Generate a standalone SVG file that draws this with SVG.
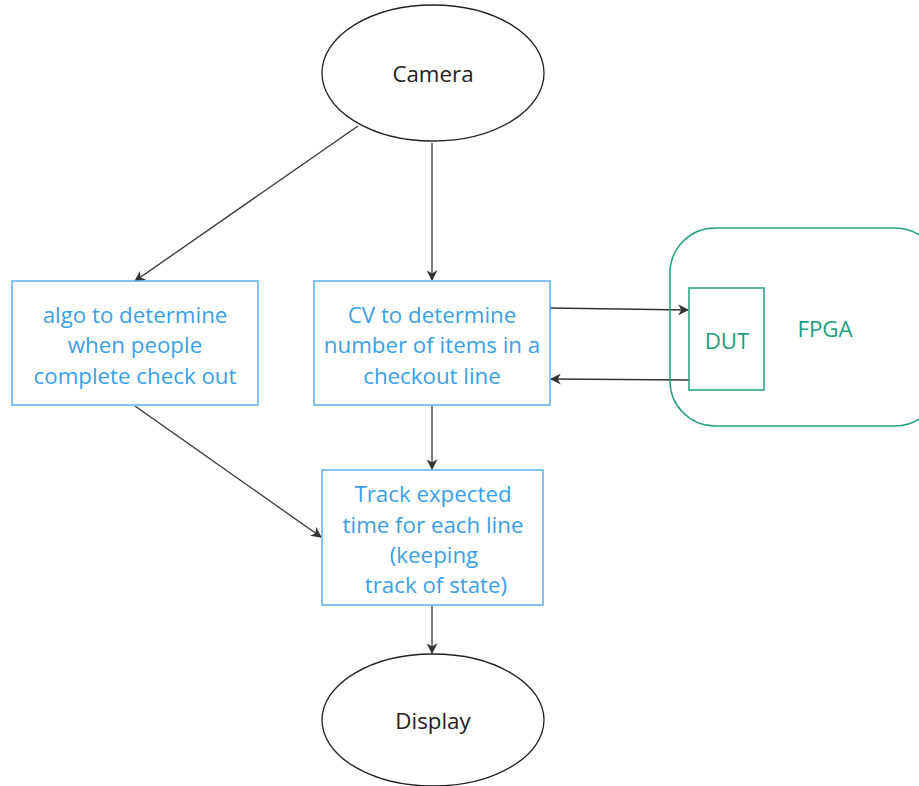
<svg xmlns="http://www.w3.org/2000/svg" width="919" height="786" viewBox="0 0 919 786">
<defs>
<marker id="arr" viewBox="0 0 10 10" refX="9" refY="5" markerWidth="11" markerHeight="11" markerUnits="userSpaceOnUse" orient="auto">
<path d="M0,0 L10,5 L0,10 L3,5 Z" fill="#333"/>
</marker>
</defs>
<style>
.ell{fill:#fff;stroke:#222;stroke-width:1.3}
.box{fill:#fff;stroke:#5aaee8;stroke-width:1.5}
.gbox{fill:none;stroke:#22a07e;stroke-width:1.5}
.t{font-family:"Open Sans",sans-serif;font-size:22.3px;text-anchor:middle;dominant-baseline:central}
.bt{fill:#3a9fe6}
.kt{fill:#222}
.gt{fill:#1f9e7c}
.c{fill:none;stroke:#333;stroke-width:1.3;marker-end:url(#arr)}
</style>
<rect width="919" height="786" fill="#fff"/>
<g id="connectors">
<line class="c" x1="358" y1="126" x2="135" y2="281"/>
<line class="c" x1="432" y1="143" x2="432" y2="280"/>
<line class="c" x1="550" y1="308" x2="688" y2="310"/>
<line class="c" x1="689" y1="380" x2="551" y2="379"/>
<line class="c" x1="135" y1="406" x2="321" y2="537"/>
<line class="c" x1="432" y1="406" x2="432" y2="469"/>
<line class="c" x1="432" y1="606" x2="432" y2="653"/>
</g>
<g id="camera">
<ellipse class="ell" cx="433" cy="73" rx="111" ry="68"/>
<text class="t kt" x="433" y="73">Camera</text>
</g>
<g id="algo">
<rect class="box" x="12" y="281" width="246" height="124"/>
<text class="t bt" x="135" y="314">algo to determine</text>
<text class="t bt" x="135" y="344">when people</text>
<text class="t bt" x="135" y="375">complete check out</text>
</g>
<g id="cv">
<rect class="box" x="314" y="281" width="236" height="124"/>
<text class="t bt" x="432" y="314">CV to determine</text>
<text class="t bt" x="432" y="344">number of items in a</text>
<text class="t bt" x="432" y="375">checkout line</text>
</g>
<g id="fpga">
<rect class="gbox" x="670" y="228" width="270" height="198" rx="45"/>
<text class="t gt" x="825" y="328">FPGA</text>
</g>
<g id="dut">
<rect class="gbox" x="689" y="288" width="75" height="102"/>
<text class="t gt" x="727" y="340">DUT</text>
</g>
<g id="track">
<rect class="box" x="322" y="470" width="221" height="135"/>
<text class="t bt" x="433" y="493">Track expected</text>
<text class="t bt" x="433" y="524">time for each line</text>
<text class="t bt" x="434" y="554">(keeping</text>
<text class="t bt" x="436" y="584">track of state)</text>
</g>
<g id="display">
<ellipse class="ell" cx="433" cy="720" rx="111" ry="66"/>
<text class="t kt" x="433" y="720">Display</text>
</g>
</svg>
